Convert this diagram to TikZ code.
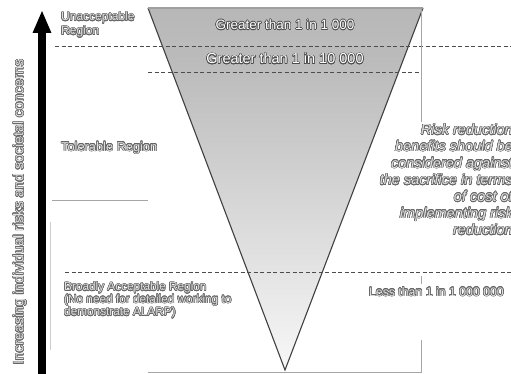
\documentclass[tikz,border=0pt]{standalone}
\usepackage{fontspec}
\setmainfont{Liberation Sans}
\usepackage{contour}
\contourlength{0.55pt}
\contournumber{16}
\usetikzlibrary{arrows.meta}
\definecolor{txtfill}{gray}{0.88}
\definecolor{txtline}{gray}{0.40}
\newcommand{\ot}[1]{\contour{txtline}{\textcolor{txtfill}{#1}}}
\newcommand{\wt}[1]{\contour{gray!60!black}{\textcolor{white}{#1}}}
\tikzset{
  lbl/.style={inner sep=0pt, font=\fontsize{11.8}{12.5}\selectfont, align=left},
  dashline/.style={draw=black!70, line width=0.9pt, dash pattern=on 4pt off 2.5pt},
  thinline/.style={draw=gray!70, line width=0.7pt},
  edge/.style={draw=black!75, line width=1.1pt}
}
\begin{document}
\begin{tikzpicture}[x=1pt,y=-1pt]
\useasboundingbox (0,0) rectangle (511,374);
\fill[white] (0,0) rectangle (511,374);
% triangle
\coordinate (tl) at (148,8);
\coordinate (tr) at (423,8);
\coordinate (ap) at (285,370);
\shade[top color=gray!62, bottom color=gray!6] (tl) -- (tr) -- (ap) -- cycle;
\fill[gray!45, opacity=0.35] (tl) -- (tr) -- (408.6,46) -- (162.4,46) -- cycle;
\fill[gray!45, opacity=0.15] (162.4,46) -- (408.6,46) -- (398.7,72) -- (172.2,72) -- cycle;
\draw[edge] (tl) -- (ap) -- (tr);
\draw[gray!75, line width=2pt] (tl) -- (tr);
% dashed lines
\coordinate (d1a) at (55,46);  \coordinate (d1b) at (511,46);
\coordinate (d2a) at (148,72); \coordinate (d2b) at (421,72);
\coordinate (d3a) at (65,272); \coordinate (d3b) at (511,272);
\draw[dashline] (d1a) -- (d1b);
\draw[dashline] (d2a) -- (d2b);
\draw[dashline] (d3a) -- (d3b);
% thin lines
\coordinate (v1a) at (421,10);  \coordinate (v1b) at (421,122);
\coordinate (v2a) at (421,276); \coordinate (v2b) at (421,284);
\coordinate (v3a) at (421,340); \coordinate (v3b) at (421,372);
\coordinate (bl) at (148,372);
\coordinate (h1a) at (52,200);  \coordinate (h1b) at (148,200);
\coordinate (v4a) at (50,222);  \coordinate (v4b) at (50,350);
\draw[thinline] (v1a) -- (v1b);
\draw[thinline] (v2a) -- (v2b);
\draw[thinline] (bl) -- (v3b) -- (v3a);
\draw[thinline] (h1a) -- (h1b);
\draw[thinline, gray!40] (v4a) -- (v4b);
% arrow
\coordinate (arb) at (42,374);
\coordinate (art) at (42,10);
\draw[line width=8pt, -{Triangle[width=17pt,length=23pt]}] (arb) -- (art);
% texts
\node[lbl, rotate=90, font=\fontsize{14.3}{16}\selectfont] (axis) at (20,212) {\ot{Increasing individual risks and societal concerns}};
\node[lbl, anchor=north west, font=\fontsize{12}{14}\selectfont] (unacc) at (61,12) {\ot{Unacceptable}\\\ot{Region}};
\node[lbl, anchor=west, font=\fontsize{12.8}{14}\selectfont] (tol) at (61,148) {\ot{Tolerable Region}};
\node[lbl, anchor=north west] (broad) at (64,282) {\ot{Broadly Acceptable Region}\\\ot{(No need for detailed working to}\\\ot{demonstrate ALARP)}};
\node[lbl, anchor=east, font=\fontsize{12.3}{14}\selectfont] (less) at (504,292) {\ot{Less than 1 in 1 000 000}};
\node[lbl, anchor=north east, align=right, font=\fontsize{14.5}{16.7}\selectfont\itshape] (rr) at (513,124)
  {\ot{Risk reduction}\\\ot{benefits should be}\\\ot{considered against}\\\ot{the sacrifice in terms}\\\ot{of cost of}\\\ot{implementing risk}\\\ot{reduction}};
\node[lbl, font=\fontsize{13.5}{15}\selectfont] (g1) at (285,25) {\wt{Greater than 1 in 1 000}};
\node[lbl, font=\fontsize{14.5}{15}\selectfont] (g2) at (285,59) {\wt{Greater than 1 in 10 000}};
\end{tikzpicture}
\end{document}
